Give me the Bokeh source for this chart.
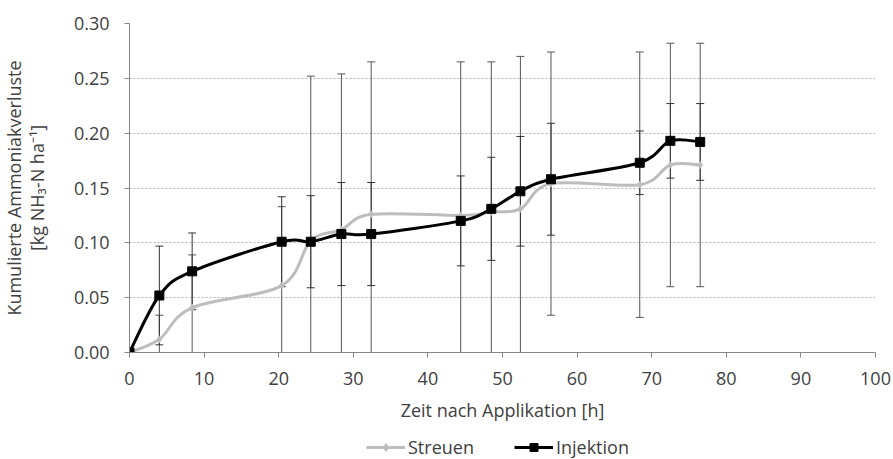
from bokeh.plotting import figure
from bokeh.layouts import column
from bokeh.models import (Range1d, FixedTicker, NumeralTickFormatter, Title, Legend,
                          LegendItem, ColumnDataSource)
from bokeh.embed import file_html
from bokeh.resources import INLINE

# ---- data ----
hours = [0, 4, 8.4, 20.4, 24.3, 28.4, 32.4, 44.4, 48.5, 52.4, 56.5, 68.4, 72.5, 76.5]
streuen = [0.0, 0.012, 0.041, 0.061, 0.102, 0.112, 0.126, 0.125, 0.128, 0.131, 0.154, 0.153, 0.171, 0.171]
streuen_err = [0.0, 0.022, 0.048, 0.072, 0.150, 0.142, 0.139, 0.140, 0.137, 0.139, 0.120, 0.121, 0.111, 0.111]
injektion = [0.0, 0.052, 0.074, 0.101, 0.101, 0.108, 0.108, 0.120, 0.131, 0.147, 0.158, 0.173, 0.193, 0.192]
injektion_err = [0.0, 0.045, 0.035, 0.041, 0.042, 0.047, 0.047, 0.041, 0.047, 0.050, 0.051, 0.029, 0.034, 0.035]
series_names = ["Streuen", "Injektion"]
y_ticks = [0.0, 0.05, 0.10, 0.15, 0.20, 0.25, 0.30]
x_ticks = [0, 10, 20, 30, 40, 50, 60, 70, 80, 90, 100]

FONT = "Open Sans"
TXT = "#404040"
FS = "18px"
GRAY = "#bdbdbd"

p = figure(width=893, height=434, output_backend="svg", toolbar_location=None,
           x_range=Range1d(0, 100), y_range=Range1d(0, 0.30),
           min_border_left=129, min_border_right=18, min_border_top=23, min_border_bottom=82)
p.outline_line_color = None
p.background_fill_color = "white"

# axes
p.xaxis.ticker = FixedTicker(ticks=x_ticks)
p.yaxis.ticker = FixedTicker(ticks=y_ticks)
p.yaxis.formatter = NumeralTickFormatter(format="0.00")
for ax in (p.xaxis[0], p.yaxis[0]):
    ax.axis_line_color = "#868686"
    ax.major_tick_line_color = "#868686"
    ax.minor_tick_line_color = None
    ax.major_tick_in = 0
    ax.major_tick_out = 5
    ax.major_label_text_font = FONT
    ax.major_label_text_font_size = FS
    ax.major_label_text_color = TXT
    ax.axis_label_text_font = FONT
    ax.axis_label_text_font_size = FS
    ax.axis_label_text_font_style = "normal"
    ax.axis_label_text_color = TXT
p.xaxis.major_label_standoff = 14
p.yaxis.major_label_standoff = 15
p.xaxis.axis_label = "Zeit nach Applikation [h]"
p.xaxis.axis_label_standoff = 10
p.yaxis.axis_label = "[kg NH\u2083-N ha\u207b\u00b9]"
p.yaxis.axis_label_standoff = 22

p.add_layout(Title(text="Kumulierte Ammoniakverluste", align="center", text_font=FONT,
                   text_font_size=FS, text_font_style="normal", text_color=TXT,
                   standoff=-8), "left")

# grid
p.xgrid.grid_line_color = None
p.ygrid.grid_line_color = "#b0b0b0"
p.ygrid.grid_line_dash = "2 2"
p.ygrid.grid_line_width = 1


def bezier_source(xs, ys):
    n = len(xs)
    d = dict(x0=[], y0=[], x1=[], y1=[], cx0=[], cy0=[], cx1=[], cy1=[])
    for i in range(n - 1):
        p0 = (xs[max(i - 1, 0)], ys[max(i - 1, 0)])
        p1 = (xs[i], ys[i])
        p2 = (xs[i + 1], ys[i + 1])
        p3 = (xs[min(i + 2, n - 1)], ys[min(i + 2, n - 1)])
        d["x0"].append(p1[0]); d["y0"].append(p1[1])
        d["x1"].append(p2[0]); d["y1"].append(p2[1])
        d["cx0"].append(p1[0] + (p2[0] - p0[0]) / 6.0)
        d["cy0"].append(p1[1] + (p2[1] - p0[1]) / 6.0)
        d["cx1"].append(p2[0] - (p3[0] - p1[0]) / 6.0)
        d["cy1"].append(p2[1] - (p3[1] - p1[1]) / 6.0)
    return ColumnDataSource(d)


def err_source(xs, ys, es):
    return ColumnDataSource(dict(x=xs, lo=[y - e for y, e in zip(ys, es)],
                                 hi=[y + e for y, e in zip(ys, es)]))

# error bars
s_err = err_source(hours, streuen, streuen_err)
i_err = err_source(hours, injektion, injektion_err)
for src, col in ((s_err, "#555555"), (i_err, "#333333")):
    p.segment(x0="x", y0="lo", x1="x", y1="hi", source=src, line_color=col, line_width=1)
    p.scatter(x="x", y="hi", source=src, marker="dash", size=8, line_color=col, line_width=1)
    p.scatter(x="x", y="lo", source=src, marker="dash", size=8, line_color=col, line_width=1)

# smoothed lines
p.bezier(x0="x0", y0="y0", x1="x1", y1="y1", cx0="cx0", cy0="cy0", cx1="cx1", cy1="cy1",
         source=bezier_source(hours, streuen), line_color=GRAY, line_width=3)
p.bezier(x0="x0", y0="y0", x1="x1", y1="y1", cx0="cx0", cy0="cy0", cx1="cx1", cy1="cy1",
         source=bezier_source(hours, injektion), line_color="black", line_width=3)

p.scatter(hours, streuen, marker="diamond", size=7, fill_color=GRAY, line_color=GRAY)
p.scatter(hours, injektion, marker="square", size=9, fill_color="black", line_color="black")

# ---- legend strip below the chart ----
lf = figure(width=893, height=25, output_backend="svg", toolbar_location=None,
            x_range=Range1d(0, 1), y_range=Range1d(0, 1), x_axis_type=None, y_axis_type=None,
            min_border_left=0, min_border_right=0, min_border_top=0, min_border_bottom=0)
lf.outline_line_color = None
lf.xgrid.grid_line_color = None
lf.ygrid.grid_line_color = None
sl = lf.line([-2, -1], [-2, -2], line_color=GRAY, line_width=3)
sm = lf.scatter([-2], [-2], marker="diamond", size=7, fill_color=GRAY, line_color=GRAY)
il = lf.line([-2, -1], [-2, -2], line_color="black", line_width=3)
im = lf.scatter([-2], [-2], marker="square", size=9, fill_color="black", line_color="black")
legend = Legend(items=[LegendItem(label=series_names[0], renderers=[sl, sm]),
                       LegendItem(label=series_names[1], renderers=[il, im])],
                orientation="horizontal", location=(237, 0),
                label_text_font=FONT, label_text_font_size=FS, label_text_color=TXT,
                border_line_color=None, background_fill_alpha=0,
                glyph_width=39, label_standoff=3, spacing=40, padding=0, margin=0)
lf.add_layout(legend, "center")

layout = column(p, lf, spacing=0)
open("out.html", "w").write(file_html(layout, INLINE))
